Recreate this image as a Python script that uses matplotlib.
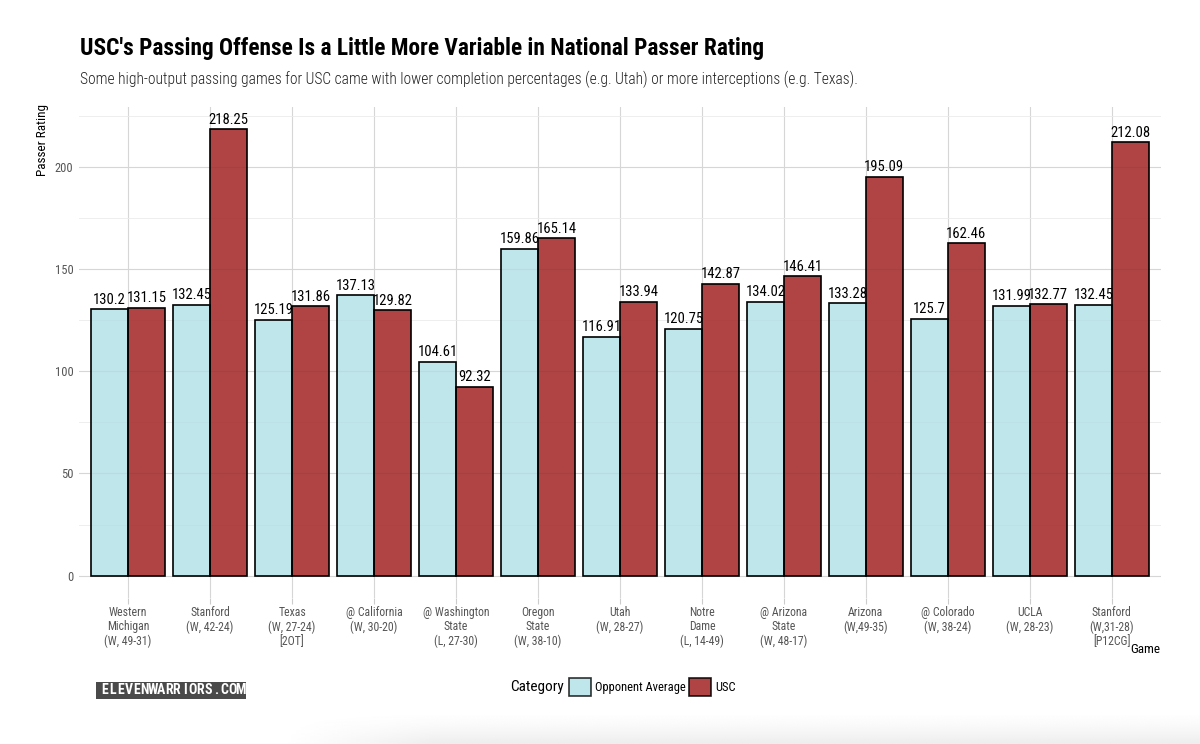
import numpy as np
import matplotlib
matplotlib.use("Agg")
from matplotlib import pyplot as plt
from matplotlib.patches import Patch, Rectangle

games = ["Western\nMichigan\n(W, 49-31)", "Stanford\n(W, 42-24)", "Texas\n(W, 27-24)\n[2OT]",
         "@ California\n(W, 30-20)", "@ Washington\nState\n(L, 27-30)", "Oregon\nState\n(W, 38-10)",
         "Utah\n(W, 28-27)", "Notre\nDame\n(L, 14-49)", "@ Arizona\nState\n(W, 48-17)",
         "Arizona\n(W,49-35)", "@ Colorado\n(W, 38-24)", "UCLA\n(W, 28-23)",
         "Stanford\n(W,31-28)\n[P12CG]"]
opponent = [130.2, 132.45, 125.19, 137.13, 104.61, 159.86, 116.91, 120.75, 134.02, 133.28, 125.7, 131.99, 132.45]
usc = [131.15, 218.25, 131.86, 129.82, 92.32, 165.14, 133.94, 142.87, 146.41, 195.09, 162.46, 132.77, 212.08]
opp_labels = ["130.2", "132.45", "125.19", "137.13", "104.61", "159.86", "116.91", "120.75",
              "134.02", "133.28", "125.7", "131.99", "132.45"]
usc_labels = ["131.15", "218.25", "131.86", "129.82", "92.32", "165.14", "133.94", "142.87",
              "146.41", "195.09", "162.46", "132.77", "212.08"]

plt.rcParams['font.family'] = ['Roboto Condensed', 'DejaVu Sans']

c_opp = "#b0e0e6"
c_usc = "#a52a2a"

fig = plt.figure(figsize=(12, 7.44), dpi=100)

# faint page shadow at the bottom of the screenshot
shade = fig.add_axes([280 / 1200, 0, 920 / 1200, 34 / 744], zorder=-5)
gy = np.linspace(0, 1, 40)[:, None]
gx = np.clip(np.linspace(0, 1, 200)[None, :] * 6, 0, 1)
shade.imshow(1 - 0.07 * (1 - gy) ** 1.5 * gx, cmap="gray", vmin=0, vmax=1, aspect="auto", origin="lower")
shade.axis("off")

ax = fig.add_axes([79 / 1200, 1 - 598 / 744, (1161 - 79) / 1200, (598 - 107) / 744])

x = np.arange(1, len(games) + 1)
w = 0.45
b1 = ax.bar(x - w / 2, opponent, w, color=c_opp, alpha=0.8, zorder=3)
b2 = ax.bar(x + w / 2, usc, w, color=c_usc, alpha=0.88, zorder=3)
ax.bar(x - w / 2, opponent, w, fill=False, edgecolor="black", linewidth=1.2, zorder=4)
ax.bar(x + w / 2, usc, w, fill=False, edgecolor="black", linewidth=1.2, zorder=4)
for xi, v, s in zip(x, opponent, opp_labels):
    ax.text(xi - w / 2, v + 1.2, s, ha="center", va="bottom", fontsize=10.5, color="black")
for xi, v, s in zip(x, usc, usc_labels):
    ax.text(xi + w / 2, v + 1.2, s, ha="center", va="bottom", fontsize=10.5, color="black")

ax.set_xlim(0.4, 13.6)
ax.set_ylim(-10.9, 229.2)
ax.set_xticks(x)
ax.set_xticklabels(games, fontsize=8.5, color="#555555", linespacing=1.15)
ax.set_yticks([0, 50, 100, 150, 200])
ax.set_yticks([25, 75, 125, 175, 225], minor=True)
ax.tick_params(axis="y", which="both", length=0, labelsize=9, labelcolor="#555555", pad=4)
ax.tick_params(axis="x", length=4, color="#cccccc", pad=1.5)
ax.grid(True, which="major", color="#d6d6d6", linewidth=0.8, zorder=0)
ax.grid(True, which="minor", axis="y", color="#ebebeb", linewidth=0.6, zorder=0)
for sp in ax.spines.values():
    sp.set_visible(False)
ax.set_ylabel("Passer Rating", fontsize=9.5)
ax.yaxis.set_label_coords(-0.028, 0.933)
ax.set_xlabel("Game", fontsize=9.5)
ax.xaxis.set_label_coords(0.999, -0.092)
ax.xaxis.label.set_horizontalalignment("right")

fig.text(80 / 1200, 1 - 48 / 744, "USC's Passing Offense Is a Little More Variable in National Passer Rating",
         fontsize=16.8, fontweight="bold", va="center", ha="left")
fig.text(80 / 1200, 1 - 79 / 744,
         "Some high-output passing games for USC came with lower completion percentages (e.g. Utah) or more interceptions (e.g. Texas).",
         fontsize=11.2, fontweight=300, va="center", ha="left", color="#222222")

handles = [Patch(facecolor=c_opp, alpha=0.8, edgecolor="black", linewidth=1.2, label="Opponent Average"),
           Patch(facecolor=c_usc, alpha=0.88, edgecolor="black", linewidth=1.2, label="USC")]
leg = fig.legend(handles=handles, loc="center left", bbox_to_anchor=(569 / 1200, 1 - 687 / 744), ncol=2,
                 frameon=False, fontsize=9, handlelength=1.75, handleheight=1.75,
                 handletextpad=0.3, columnspacing=0.3, borderpad=0, borderaxespad=0)
for h in leg.legend_handles:
    h.set_edgecolor("black")
fig.text(564 / 1200, 1 - 687 / 744, "Category", fontsize=11, ha="right", va="center")

# watermark badge, letters spread across the box
fig.patches.append(Rectangle((96 / 1200, 1 - 699 / 744), 150 / 1200, 17 / 744,
                             transform=fig.transFigure, facecolor="#4a4a4a", edgecolor="none"))
mark = "ELEVENWARRIORS.COM"
for i, ch in enumerate(mark):
    fig.text((105 + i * 7.95) / 1200, 1 - 690.5 / 744, ch, fontsize=10, fontweight="bold",
             color="white", va="center", ha="center")

fig.savefig("out.png", dpi=100)
